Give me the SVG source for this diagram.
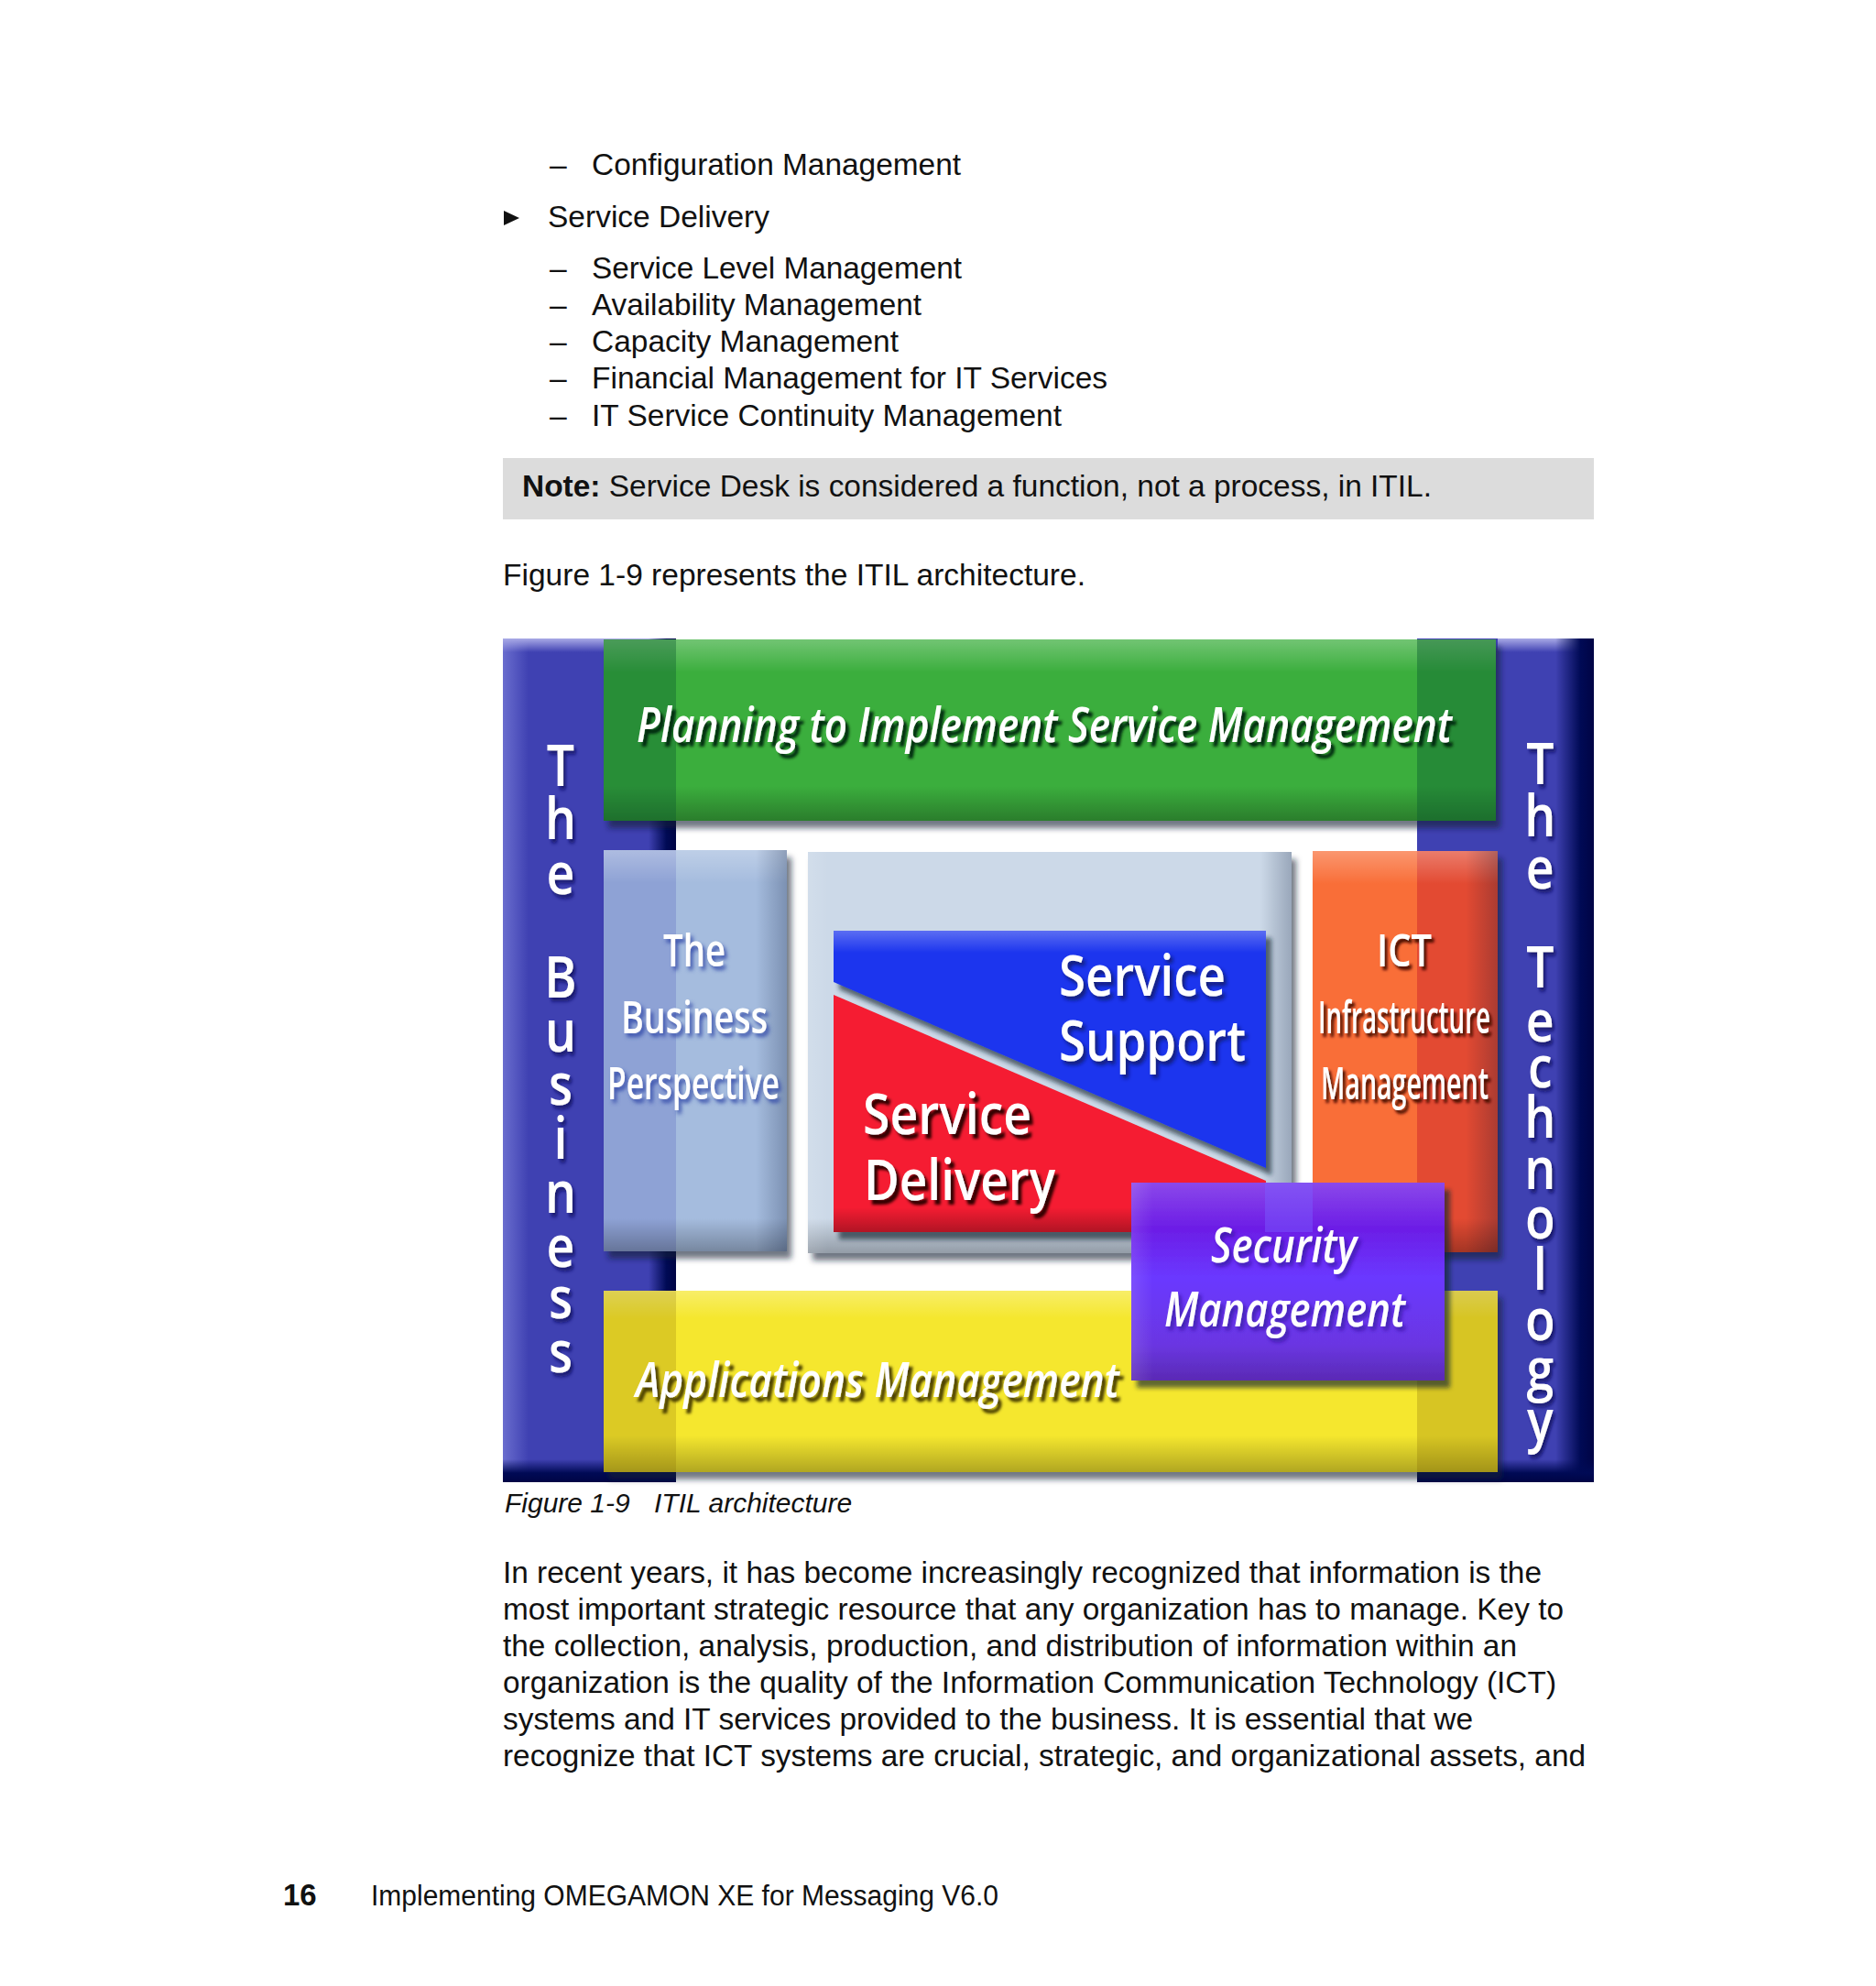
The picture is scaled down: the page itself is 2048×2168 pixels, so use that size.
<svg xmlns="http://www.w3.org/2000/svg" width="2048" height="2168" viewBox="0 0 2048 2168">
<style>
text{font-family:"Liberation Sans",Arial,sans-serif;fill:#111}
.b{font-size:33.6px}
.bold{font-weight:bold}
.l{font-family:"Open Sans","Noto Sans",sans-serif;fill:#fff;font-weight:600;font-size:48px}
.big{font-size:62px}
.it{font-style:italic;font-size:52px}
.pillar{font-size:63px;text-anchor:middle}
.bt{fill:url(#fT)}.bb{fill:url(#fB)}.bl{fill:url(#fL)}.br{fill:url(#fR)}
</style>
<defs>
<linearGradient id="fT" x1="0" y1="0" x2="0" y2="1"><stop offset="0" stop-color="#fff" stop-opacity=".28"/><stop offset="1" stop-color="#fff" stop-opacity="0"/></linearGradient>
<linearGradient id="fB" x1="0" y1="1" x2="0" y2="0"><stop offset="0" stop-color="#000" stop-opacity=".28"/><stop offset="1" stop-color="#000" stop-opacity="0"/></linearGradient>
<linearGradient id="fL" x1="0" y1="0" x2="1" y2="0"><stop offset="0" stop-color="#fff" stop-opacity=".12"/><stop offset="1" stop-color="#fff" stop-opacity="0"/></linearGradient>
<linearGradient id="fR" x1="1" y1="0" x2="0" y2="0"><stop offset="0" stop-color="#001030" stop-opacity=".25"/><stop offset="1" stop-color="#001030" stop-opacity="0"/></linearGradient>
<linearGradient id="navyR" x1="0" y1="0" x2="1" y2="0"><stop offset="0" stop-color="#000a55" stop-opacity="0"/><stop offset=".65" stop-color="#000a55"/><stop offset="1" stop-color="#000445"/></linearGradient>
<linearGradient id="navyB" x1="0" y1="0" x2="0" y2="1"><stop offset="0" stop-color="#000a55" stop-opacity="0"/><stop offset=".6" stop-color="#000a55"/><stop offset="1" stop-color="#000445"/></linearGradient>
<linearGradient id="litL" x1="0" y1="0" x2="1" y2="0"><stop offset="0" stop-color="#7c80da" stop-opacity=".7"/><stop offset="1" stop-color="#7c80da" stop-opacity="0"/></linearGradient>
<linearGradient id="litT" x1="0" y1="0" x2="0" y2="1"><stop offset="0" stop-color="#a9aae6"/><stop offset="1" stop-color="#a9aae6" stop-opacity="0"/></linearGradient>
<linearGradient id="purp" x1="0" y1="0" x2="0" y2="1"><stop offset="0" stop-color="#8b48ea"/><stop offset=".23" stop-color="#6c1de6"/><stop offset=".48" stop-color="#6b38ff"/><stop offset=".82" stop-color="#6a36e2"/><stop offset="1" stop-color="#5a2ab4"/></linearGradient>
<filter id="sh" x="-5%" y="-5%" width="112%" height="115%"><feDropShadow dx="5" dy="8" stdDeviation="3" flood-color="#0c2030" flood-opacity=".6"/></filter>
<filter id="shD" x="-5%" y="-5%" width="112%" height="115%"><feDropShadow dx="6" dy="8" stdDeviation="2.5" flood-color="#0c2030" flood-opacity=".65"/></filter>
<filter id="tG" x="-5%" y="-20%" width="110%" height="150%"><feDropShadow dx="4" dy="5" stdDeviation="1.8" flood-color="#052a0c"/></filter>
<filter id="tB" x="-5%" y="-20%" width="115%" height="150%"><feDropShadow dx="3" dy="4" stdDeviation="2" flood-color="#0b1460" flood-opacity=".85"/></filter>
<filter id="tR" x="-5%" y="-20%" width="115%" height="150%"><feDropShadow dx="4" dy="5" stdDeviation="1.8" flood-color="#300006"/></filter>
<filter id="tO" x="-5%" y="-20%" width="115%" height="150%"><feDropShadow dx="3" dy="4" stdDeviation="1.8" flood-color="#4c1006"/></filter>
<filter id="tY" x="-5%" y="-20%" width="110%" height="150%"><feDropShadow dx="4" dy="5" stdDeviation="1.8" flood-color="#4c4000"/></filter>
<filter id="tP" x="-5%" y="-20%" width="115%" height="150%"><feDropShadow dx="3" dy="4" stdDeviation="2" flood-color="#2c1490" flood-opacity=".7"/></filter>
<filter id="tI" x="-5%" y="-20%" width="115%" height="150%"><feDropShadow dx="3" dy="4" stdDeviation="2" flood-color="#3048a8" flood-opacity=".9"/></filter>
<filter id="tV" x="-30%" y="-5%" width="160%" height="110%"><feDropShadow dx="3" dy="4" stdDeviation="2" flood-color="#0a0f60" flood-opacity=".85"/></filter>
</defs>
<rect width="2048" height="2168" fill="#fff"/>

<g id="page-top">
<text class="b" x="600" y="191">–</text><text class="b" x="646" y="191" textLength="403" lengthAdjust="spacingAndGlyphs">Configuration Management</text>
<polygon points="550,230 567,238 550,246" fill="#111"/>
<text class="b" x="598" y="248" textLength="242" lengthAdjust="spacingAndGlyphs">Service Delivery</text>
<text class="b" x="600" y="304">–</text><text class="b" x="646" y="304" textLength="404" lengthAdjust="spacingAndGlyphs">Service Level Management</text>
<text class="b" x="600" y="344">–</text><text class="b" x="646" y="344" textLength="360" lengthAdjust="spacingAndGlyphs">Availability Management</text>
<text class="b" x="600" y="384">–</text><text class="b" x="646" y="384" textLength="335" lengthAdjust="spacingAndGlyphs">Capacity Management</text>
<text class="b" x="600" y="424">–</text><text class="b" x="646" y="424" textLength="563" lengthAdjust="spacingAndGlyphs">Financial Management for IT Services</text>
<text class="b" x="600" y="465">–</text><text class="b" x="646" y="465" textLength="513" lengthAdjust="spacingAndGlyphs">IT Service Continuity Management</text>
</g>
<g id="note">
<rect x="549" y="500" width="1191" height="67" fill="#dcdcdc"/>
<text class="b" x="570" y="542" textLength="993" lengthAdjust="spacingAndGlyphs"><tspan class="bold">Note:</tspan> Service Desk is considered a function, not a process, in ITIL.</text>
</g>
<text id="intro" class="b" x="549" y="639" textLength="636" lengthAdjust="spacingAndGlyphs">Figure 1-9 represents the ITIL architecture.</text>

<g id="pillar-business">
<rect x="549" y="697" width="189" height="921" fill="#3f41b2"/>
<rect x="549" y="697" width="28" height="921" fill="url(#litL)"/>
<rect x="549" y="697" width="189" height="15" fill="url(#litT)"/>
<rect x="708" y="697" width="30" height="921" fill="url(#navyR)"/>
<rect x="549" y="1593" width="189" height="25" fill="url(#navyB)"/>
</g>
<g id="pillar-technology">
<rect x="1547" y="697" width="193" height="921" fill="#3f41b2"/>
<rect x="1635" y="697" width="100" height="15" fill="url(#litT)"/>
<rect x="1698" y="697" width="42" height="921" fill="url(#navyR)"/>
<rect x="1547" y="1593" width="193" height="25" fill="url(#navyB)"/>
</g>

<g id="planning">
<rect x="659" y="698" width="974" height="198" fill="#3aae3c" filter="url(#sh)"/>
<rect class="bt" x="659" y="698" width="974" height="36"/>
<rect class="bb" x="659" y="858" width="974" height="38"/>
<rect x="659" y="698" width="79" height="198" fill="#0a5a30" opacity=".38"/>
<rect x="1547" y="698" width="86" height="198" fill="#0a5a30" opacity=".42"/>
<text class="l it" x="695" y="810" textLength="890" lengthAdjust="spacingAndGlyphs" filter="url(#tG)">Planning to Implement Service Management</text>
</g>
<g id="business-perspective">
<rect x="659" y="928" width="200" height="438" fill="#a5bcde" filter="url(#sh)"/>
<rect x="659" y="928" width="79" height="438" fill="#5a68c0" opacity=".3"/>
<rect class="bt" x="659" y="928" width="200" height="36"/>
<rect class="bb" x="659" y="1330" width="200" height="36"/>
<rect class="br" x="825" y="928" width="34" height="438"/>
<text class="l" x="724" y="1055" textLength="68" lengthAdjust="spacingAndGlyphs" filter="url(#tI)">The</text>
<text class="l" x="678" y="1128" textLength="160" lengthAdjust="spacingAndGlyphs" filter="url(#tI)">Business</text>
<text class="l" x="663" y="1200" textLength="188" lengthAdjust="spacingAndGlyphs" filter="url(#tI)">Perspective</text>
</g>
<g id="center-panel">
<rect x="882" y="930" width="528" height="438" fill="#ccd9e8" filter="url(#sh)"/>
<rect class="bb" x="882" y="1330" width="528" height="38"/>
<rect class="br" x="1376" y="930" width="34" height="438"/>
<rect class="bl" x="882" y="930" width="22" height="438"/>
</g>
<g id="service-support">
<polygon points="910,1016 1382,1016 1382,1275 910,1072" fill="#1b36ee" filter="url(#shD)"/>
<polygon points="910,1016 1382,1016 1382,1040 910,1040" fill="url(#fT)"/>
<text class="l big" x="1156" y="1087" textLength="182" lengthAdjust="spacingAndGlyphs" filter="url(#tB)">Service</text>
<text class="l big" x="1156" y="1158" textLength="204" lengthAdjust="spacingAndGlyphs" filter="url(#tB)">Support</text>
</g>
<g id="service-delivery">
<polygon points="910,1086 1382,1289 1382,1345 910,1345" fill="#f51c30" filter="url(#shD)"/>
<rect class="bb" x="910" y="1318" width="340" height="27"/>
<text class="l big" x="942" y="1238" textLength="184" lengthAdjust="spacingAndGlyphs" filter="url(#tR)">Service</text>
<text class="l big" x="943" y="1310" textLength="209" lengthAdjust="spacingAndGlyphs" filter="url(#tR)">Delivery</text>
</g>
<g id="ict-infrastructure">
<rect x="1433" y="929" width="202" height="438" fill="#f96e38" filter="url(#sh)"/>
<rect x="1547" y="929" width="88" height="438" fill="#c8202c" opacity=".45"/>
<rect class="bt" x="1433" y="929" width="202" height="36"/>
<rect class="bb" x="1433" y="1330" width="202" height="37"/>
<rect class="br" x="1600" y="929" width="35" height="438"/>
<text class="l" x="1503" y="1055" textLength="60" lengthAdjust="spacingAndGlyphs" filter="url(#tO)">ICT</text>
<text class="l" x="1439" y="1128" textLength="188" lengthAdjust="spacingAndGlyphs" filter="url(#tO)">Infrastructure</text>
<text class="l" x="1442" y="1200" textLength="183" lengthAdjust="spacingAndGlyphs" filter="url(#tO)">Management</text>
</g>
<g id="applications">
<rect x="659" y="1409" width="976" height="198" fill="#f5e72e" filter="url(#sh)"/>
<rect class="bt" x="659" y="1409" width="976" height="30"/>
<rect class="bb" x="659" y="1567" width="976" height="40"/>
<rect x="659" y="1409" width="79" height="198" fill="#7a5a00" opacity=".2"/>
<rect x="1547" y="1409" width="88" height="198" fill="#7a5a00" opacity=".24"/>
<text class="l it" x="694" y="1525" textLength="528" lengthAdjust="spacingAndGlyphs" filter="url(#tY)">Applications Management</text>
</g>
<g id="security">
<rect x="1235" y="1291" width="342" height="216" fill="url(#purp)" filter="url(#shD)"/>
<rect x="1381" y="1291" width="52" height="54" fill="#7a60ff" opacity=".45"/>
<rect class="bl" x="1235" y="1291" width="24" height="216"/>
<text class="l it" x="1322" y="1378" textLength="159" lengthAdjust="spacingAndGlyphs" filter="url(#tP)">Security</text>
<text class="l it" x="1271" y="1448" textLength="263" lengthAdjust="spacingAndGlyphs" filter="url(#tP)">Management</text>
</g>
<g id="pillar-labels">
<text class="l pillar" filter="url(#tV)" transform="scale(.85 1)" x="720 720 720 720 720 720 720 720 720 720 720 720" y="858 916 976 1030 1089 1148 1206 1265 1324 1383 1439 1498">The Business</text>
<text class="l pillar" filter="url(#tV)" transform="scale(.85 1)" x="1978 1978 1978 1978 1978 1978 1978 1978 1978 1978 1978 1978 1978 1978" y="856 913 970 1020 1078 1137 1187 1242 1298 1352 1408 1463 1517 1573">The Technology</text>
</g>
<text id="caption" x="551" y="1651" font-size="30" font-style="italic">Figure 1-9<tspan x="714">ITIL architecture</tspan></text>
<g id="paragraph">
<text class="b" x="549" y="1728" textLength="1134" lengthAdjust="spacingAndGlyphs">In recent years, it has become increasingly recognized that information is the</text>
<text class="b" x="549" y="1768" textLength="1158" lengthAdjust="spacingAndGlyphs">most important strategic resource that any organization has to manage. Key to</text>
<text class="b" x="549" y="1808" textLength="1107" lengthAdjust="spacingAndGlyphs">the collection, analysis, production, and distribution of information within an</text>
<text class="b" x="549" y="1848" textLength="1150" lengthAdjust="spacingAndGlyphs">organization is the quality of the Information Communication Technology (ICT)</text>
<text class="b" x="549" y="1888" textLength="1059" lengthAdjust="spacingAndGlyphs">systems and IT services provided to the business. It is essential that we</text>
<text class="b" x="549" y="1928" textLength="1182" lengthAdjust="spacingAndGlyphs">recognize that ICT systems are crucial, strategic, and organizational assets, and</text>
</g>
<g id="footer">
<text class="bold" x="309" y="2080" font-size="33">16</text>
<text x="405" y="2080" font-size="31" textLength="685" lengthAdjust="spacingAndGlyphs">Implementing OMEGAMON XE for Messaging V6.0</text>
</g>
</svg>
